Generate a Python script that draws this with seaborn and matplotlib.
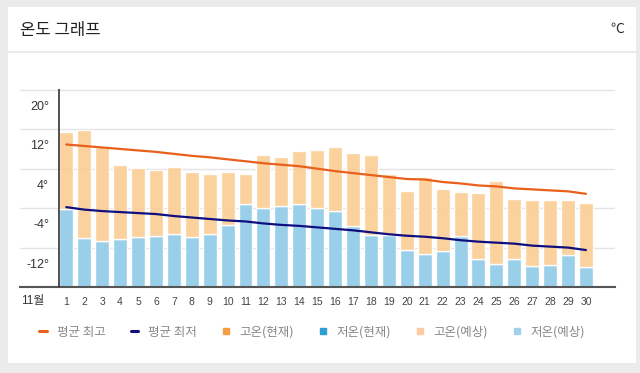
import numpy as np
import pandas as pd
import matplotlib
matplotlib.use('Agg')
import matplotlib.pyplot as plt
import seaborn as sns
from matplotlib.lines import Line2D
from matplotlib.patches import Rectangle
from matplotlib import font_manager

# 11월 일별 기온 (°C)
days = list(range(1, 31))
high_forecast = [14.6, 15.0, 11.6, 7.9, 7.3, 7.0, 7.6, 6.5, 6.2, 6.5,
                 6.2, 10.0, 9.6, 10.8, 11.0, 11.6, 10.4, 10.0, 6.2, 2.6,
                 5.5, 3.0, 2.4, 2.2, 4.8, 1.1, 0.9, 0.8, 0.9, 0.3]
low_forecast = [-0.9, -6.9, -7.5, -7.0, -6.7, -6.4, -6.1, -6.7, -6.1, -4.3,
                0.0, -0.8, -0.3, 0.0, -0.8, -1.4, -4.4, -6.3, -6.3, -9.3,
                -10.1, -9.5, -6.4, -11.1, -12.1, -11.1, -12.5, -12.3, -10.3, -12.7]
avg_high = [12.1, 11.8, 11.5, 11.2, 10.9, 10.6, 10.2, 9.8, 9.5, 9.1,
            8.7, 8.3, 8.0, 7.7, 7.2, 6.7, 6.3, 5.9, 5.5, 5.1,
            5.0, 4.5, 4.2, 3.8, 3.6, 3.2, 3.0, 2.8, 2.6, 2.1]
avg_low = [-0.6, -1.1, -1.4, -1.6, -1.8, -2.0, -2.4, -2.7, -3.0, -3.3,
           -3.5, -3.9, -4.2, -4.4, -4.7, -5.0, -5.3, -5.7, -6.1, -6.4,
           -6.6, -6.9, -7.3, -7.6, -7.8, -8.0, -8.4, -8.6, -8.8, -9.3]
y_ticks = [20, 12, 4, -4, -12]
legend_labels = ['평균 최고', '평균 최저', '고온(현재)', '저온(현재)', '고온(예상)', '저온(예상)']

df = pd.DataFrame({'day': days, 'high': high_forecast, 'low': low_forecast,
                   'avg_high': avg_high, 'avg_low': avg_low})

sns.set_theme(style='white')
plt.rcParams['font.family'] = ['Noto Sans CJK KR', 'DejaVu Sans']

installed = {f.name for f in font_manager.fontManager.ttflist}
narrow = 'Liberation Sans Narrow' if 'Liberation Sans Narrow' in installed else 'Liberation Sans'
num_font = [narrow, 'Noto Sans CJK KR', 'DejaVu Sans']

fig = plt.figure(figsize=(6.4, 3.73), dpi=100, facecolor='#ebebeb')

# 흰색 카드 배경
fig.add_artist(Rectangle((8 / 640, 1 - 363 / 373), 628 / 640, 356 / 373,
                         transform=fig.transFigure, facecolor='white',
                         edgecolor='none', zorder=0))
fig.add_artist(Line2D([8 / 640, 636 / 640], [1 - 52 / 373, 1 - 52 / 373],
                      transform=fig.transFigure, color='#e6e6e6', lw=1.2))
fig.text(20 / 640, 1 - 30 / 373, '온도 그래프', fontsize=12, color='#222222',
         va='center', ha='left')
fig.text(624 / 640, 1 - 29 / 373, '℃', fontsize=10, color='#333333',
         va='center', ha='right')

ax = fig.add_axes([20 / 640, 1 - 287.3 / 373, 595 / 640, 198.3 / 373])
ax.set_facecolor('none')

ymin, ymax = -16.85, 23.35
bar_w = 0.78

# 저온(예상) 막대: 축 바닥부터 최저기온까지
ax.bar(df['day'], df['low'] - ymin, bottom=ymin, width=bar_w,
       color='#95cde9', alpha=0.95, zorder=2)
# 고온(예상) 막대: 최저기온부터 최고기온까지
ax.bar(df['day'], df['high'] - df['low'], bottom=df['low'], width=bar_w,
       color='#fbcf98', alpha=0.95, zorder=2)

sns.lineplot(data=df, x='day', y='avg_high', color='#e8601c', linewidth=1.6,
             ax=ax, legend=False, zorder=4)
sns.lineplot(data=df, x='day', y='avg_low', color='#0f0f80', linewidth=1.6,
             ax=ax, legend=False, zorder=4)

ax.set_xlim(-1.584, 31.62)
ax.set_ylim(ymin, ymax)
ax.set_xlabel('')
ax.set_ylabel('')

ax.set_xticks(days)
ax.set_xticklabels([str(d) for d in days], fontfamily=num_font)
ax.tick_params(axis='x', length=0, pad=7, labelsize=7.5, colors='#444444')

ax.set_yticks(y_ticks)
ax.set_yticklabels([f'{v}°' for v in y_ticks], fontfamily=num_font)
ax.tick_params(axis='y', which='major', length=0, pad=-21, labelsize=9,
               colors='#333333')
ax.set_yticks([v + 3.2 for v in y_ticks], minor=True)
ax.tick_params(axis='y', which='minor', length=0)
ax.grid(False)
ax.grid(axis='y', which='minor', color='#e4e4e4', lw=1)
ax.set_axisbelow(True)

for side in ['top', 'right', 'left']:
    ax.spines[side].set_visible(False)
ax.spines['bottom'].set_color('#555555')
ax.spines['bottom'].set_linewidth(1.5)
ax.axvline(0.576, color='#222222', lw=1.1, zorder=5)

fig.text(32.5 / 640, 1 - 300.7 / 373, '11월', fontsize=8.5, color='#333333',
         ha='center', va='center', family=num_font)

handles = [
    Line2D([], [], color='#e8601c', lw=2.2),
    Line2D([], [], color='#0f0f80', lw=2.2),
    Line2D([], [], color='#f59e42', marker='s', ls='none', ms=5),
    Line2D([], [], color='#2d9fd5', marker='s', ls='none', ms=5),
    Line2D([], [], color='#fdcaa0', marker='s', ls='none', ms=5),
    Line2D([], [], color='#a0d0ee', marker='s', ls='none', ms=5),
]
leg = fig.legend(handles, legend_labels, loc='center left',
                 bbox_to_anchor=(39.3 / 640, 1 - 332.3 / 373), ncol=6,
                 frameon=False, fontsize=9, handlelength=0.6,
                 handletextpad=0.8, columnspacing=2.0, borderpad=0,
                 borderaxespad=0)
for t in leg.get_texts():
    t.set_color('#888888')

fig.savefig('out.png', dpi=100, facecolor=fig.get_facecolor())
